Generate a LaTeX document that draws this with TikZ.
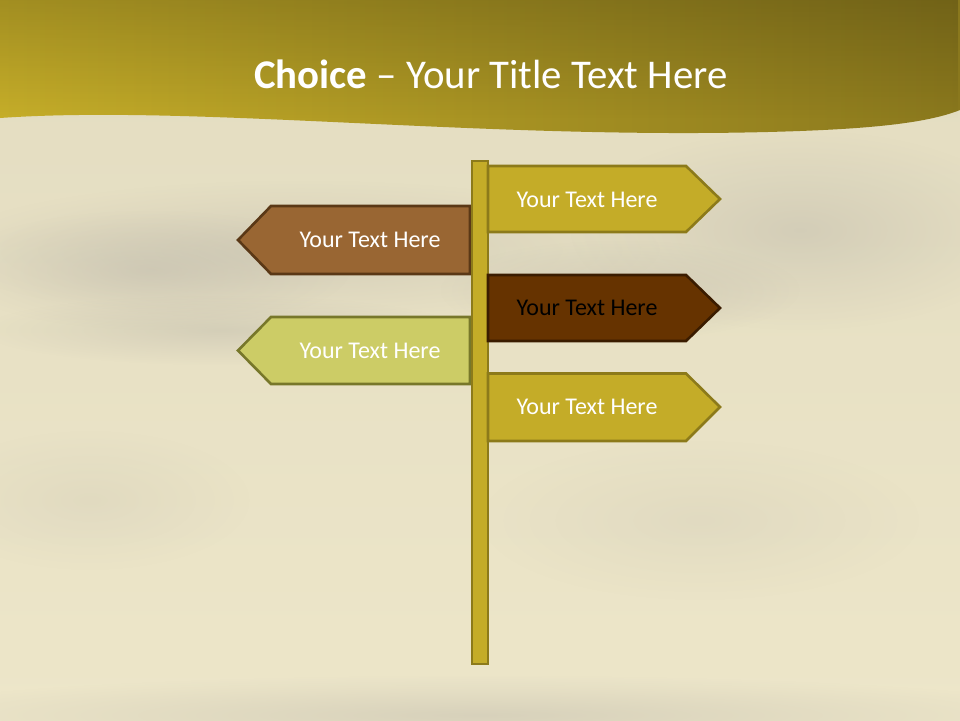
\documentclass[tikz,border=0pt]{standalone}
\usepackage{fontspec}
\setmainfont{Carlito}
\usetikzlibrary{fadings}
\definecolor{cream}{HTML}{E8E1C4}
\definecolor{creamlow}{HTML}{EDE6C9}
\definecolor{cloud}{HTML}{BDB8AA}
\definecolor{banL}{HTML}{C6AE29}
\definecolor{banR}{HTML}{8A781D}
\definecolor{gold}{HTML}{C4AC28}
\definecolor{goldline}{HTML}{8C7A1A}
\definecolor{darkbrown}{HTML}{663300}
\definecolor{darkbrownline}{HTML}{3A1C00}
\definecolor{midbrown}{HTML}{996633}
\definecolor{midbrownline}{HTML}{5A3816}
\definecolor{lime}{HTML}{CCCC66}
\definecolor{limeline}{HTML}{77772A}
\tikzfading[name=softblob, inner color=transparent!55, outer color=transparent!100]
\tikzfading[name=faintblob, inner color=transparent!80, outer color=transparent!100]
\tikzset{
  signtext/.style={font=\fontsize{24}{28}\selectfont, text=white, inner sep=0pt},
  signshape/.style={line width=2.6pt, line join=miter},
  cloudblob/.style={fill=cloud, path fading=softblob},
  faintcloud/.style={fill=cloud, path fading=faintblob},
}
\begin{document}
\begin{tikzpicture}[x=1pt,y=-1pt]
\useasboundingbox (0,0) rectangle (960,720);
% background
\shade[top color=cream!95!gray, bottom color=creamlow] (0,0) rectangle (960,720);
\fill[cloudblob] (300,250) ellipse (360 and 70);
\fill[cloudblob] (150,270) ellipse (200 and 60);
\fill[cloudblob] (800,230) ellipse (230 and 100);
\fill[cloudblob] (620,290) ellipse (180 and 50);
\fill[cloudblob] (220,330) ellipse (240 and 35);
\fill[cloudblob] (480,715) ellipse (600 and 40);
\fill[faintcloud] (90,500) ellipse (160 and 70);
\fill[faintcloud] (700,520) ellipse (220 and 80);
% banner
\shade[left color=banL, right color=banR]
  (0,0) -- (0,118) .. controls (200,104) and (500,142) .. (800,131)
  .. controls (880,128) and (930,122) .. (960,110) -- (960,0) -- cycle;
\fill[black, opacity=0.18, path fading=south] (0,0) rectangle (960,118);
\node[font=\fontsize{40.8}{46}\selectfont, text=white, anchor=base, inner sep=0pt] (title) at (491,88)
  {\textbf{Choice} – Your Title Text Here};
% left signs (behind post)
\draw[signshape, fill=midbrown, draw=midbrownline]
  (470,206) -- (271,206) -- (238,240) -- (271,274) -- (470,274) -- cycle;
\node[signtext] (s2) at (370,240) {Your Text Here};
\draw[signshape, fill=lime, draw=limeline]
  (470,317) -- (271,317) -- (238,350.5) -- (271,384) -- (470,384) -- cycle;
\node[signtext] (s4) at (370,351) {Your Text Here};
% post
\draw[line width=2.4pt, fill=gold, draw=goldline] (472,161) rectangle (488,664);
% right signs
\draw[signshape, fill=gold, draw=goldline]
  (488,166) -- (686,166) -- (720,199) -- (686,232) -- (488,232) -- cycle;
\node[signtext] (s1) at (587,200) {Your Text Here};
\draw[signshape, fill=darkbrown, draw=darkbrownline]
  (488,275) -- (686,275) -- (720,308) -- (686,341) -- (488,341) -- cycle;
\node[signtext, text=black] (s3) at (587,308) {Your Text Here};
\draw[signshape, fill=gold, draw=goldline]
  (488,373.5) -- (686,373.5) -- (720,407) -- (686,441) -- (488,441) -- cycle;
\node[signtext] (s5) at (587,407) {Your Text Here};
\end{tikzpicture}
\end{document}
